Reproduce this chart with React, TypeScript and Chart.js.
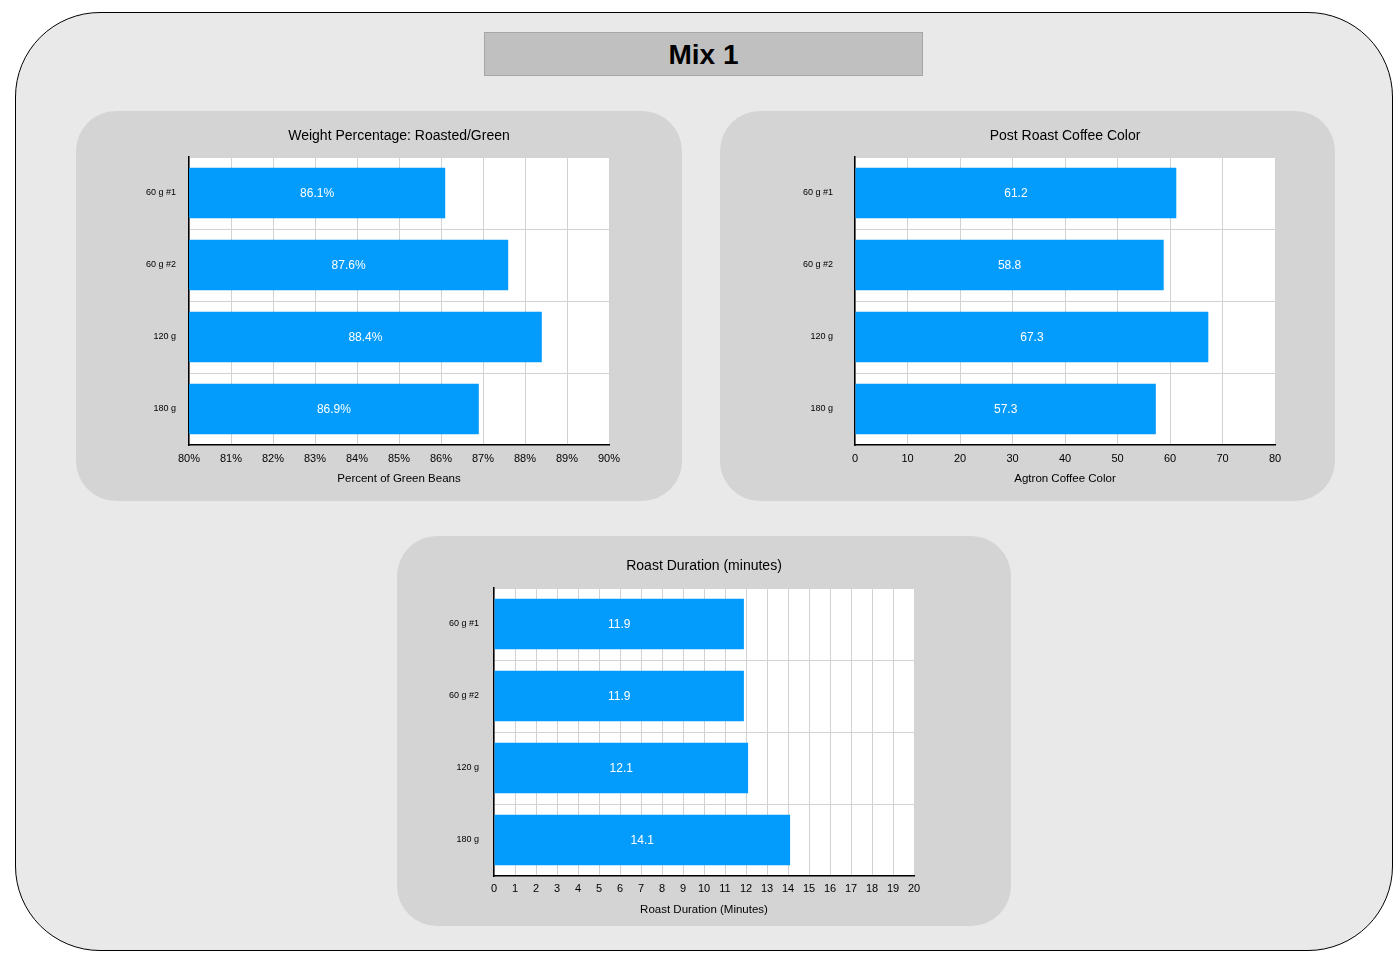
import React, { useEffect, useRef } from "react";
import { Chart, registerables } from "chart.js";

Chart.register(...registerables);

// ---- data ----
const categories = ["60 g #1", "60 g #2", "120 g", "180 g"];
const weightPct = [86.1, 87.6, 88.4, 86.9];
const coffeeColor = [61.2, 58.8, 67.3, 57.3];
const roastMinutes = [11.9, 11.9, 12.1, 14.1];

const pageTitle = "Mix 1";
const weightTitle = "Weight Percentage: Roasted/Green";
const colorTitle = "Post Roast Coffee Color";
const durationTitle = "Roast Duration (minutes)";
const weightAxis = "Percent of Green Beans";
const colorAxis = "Agtron Coffee Color";
const durationAxis = "Roast Duration (Minutes)";

const FONT = "'Liberation Sans', Arial, Helvetica, sans-serif";
const BAR = "#049CFC";
const GRID = "#d2d2d2";

const whiteBg = {
  id: "whiteBg",
  beforeDraw(chart: any) {
    const { ctx, chartArea } = chart;
    ctx.save();
    ctx.fillStyle = "#ffffff";
    ctx.fillRect(chartArea.left, chartArea.top, chartArea.right - chartArea.left, chartArea.bottom - chartArea.top);
    ctx.restore();
  },
};

function makeValueLabels(fmt: (v: number) => string) {
  return {
    id: "valueLabels",
    afterDatasetsDraw(chart: any) {
      const { ctx, chartArea } = chart;
      const ds = chart.data.datasets[0];
      const meta = chart.getDatasetMeta(0);
      ctx.save();
      ctx.fillStyle = "#ffffff";
      ctx.font = `12px ${FONT}`;
      ctx.textAlign = "center";
      ctx.textBaseline = "middle";
      meta.data.forEach((el: any, i: number) => {
        const base = Math.max(Math.min(el.base, el.x), chartArea.left);
        const end = Math.min(Math.max(el.base, el.x), chartArea.right);
        ctx.fillText(fmt(Number(ds.data[i])), (base + end) / 2, el.y + 1);
      });
      ctx.restore();
    },
  };
}

type PanelProps = {
  x: number;
  y: number;
  w: number;
  h: number;
  left: number;
  right: number;
  titleTop: number;
  titleBottom: number;
  xHeight: number;
  tickPad: number;
  xTitleBottom: number;
  yPad: number;
  title: string;
  xTitle: string;
  values: number[];
  min: number;
  max: number;
  step: number;
  tickFmt: (v: number) => string;
  valFmt: (v: number) => string;
};

function Panel(p: PanelProps) {
  const ref = useRef<HTMLCanvasElement>(null);
  useEffect(() => {
    const chart = new Chart(ref.current as HTMLCanvasElement, {
      type: "bar",
      data: {
        labels: categories,
        datasets: [
          {
            data: p.values,
            backgroundColor: BAR,
            borderWidth: 0,
            barPercentage: 0.7,
            categoryPercentage: 1,
          },
        ],
      },
      options: {
        indexAxis: "y",
        animation: false,
        responsive: false,
        maintainAspectRatio: false,
        devicePixelRatio: 1,
        events: [],
        layout: { padding: { left: 0, right: p.right, top: 0, bottom: 0 } },
        plugins: {
          legend: { display: false },
          tooltip: { enabled: false },
          title: {
            display: true,
            text: p.title,
            color: "#000",
            fullSize: false,
            font: { family: FONT, size: 14, weight: "normal" },
            padding: { top: p.titleTop, bottom: p.titleBottom },
          },
        },
        scales: {
          x: {
            type: "linear",
            min: p.min,
            max: p.max,
            ticks: {
              stepSize: p.step,
              color: "#000",
              font: { family: FONT, size: 11 },
              padding: p.tickPad,
              maxRotation: 0,
              autoSkip: false,
              callback: (v: any) => p.tickFmt(Number(v)),
            },
            grid: { color: GRID, drawTicks: false },
            border: { color: "#000", width: 1.5 },
            title: {
              display: true,
              text: p.xTitle,
              color: "#000",
              font: { family: FONT, size: 11.5 },
              padding: { top: 0, bottom: p.xTitleBottom },
            },
            afterFit: (s: any) => {
              s.height = p.xHeight;
            },
          },
          y: {
            ticks: {
              color: "#000",
              font: { family: FONT, size: 9 },
              padding: p.yPad,
            },
            grid: { color: GRID, drawTicks: false, offset: true },
            border: { color: "#000", width: 1.5 },
            afterFit: (s: any) => {
              s.width = p.left;
            },
          },
        },
      } as any,
      plugins: [whiteBg, makeValueLabels(p.valFmt)],
    });
    return () => chart.destroy();
  }, []);
  return (
    <div
      style={{
        position: "absolute",
        left: p.x,
        top: p.y,
        width: p.w,
        height: p.h,
        background: "#d4d4d4",
        borderRadius: 40,
      }}
    >
      <canvas ref={ref} width={p.w} height={p.h} style={{ display: "block", width: p.w, height: p.h }} />
    </div>
  );
}

export default function App() {
  return (
    <div style={{ position: "absolute", left: 0, top: 0, width: 1400, height: 957, background: "#fff", fontFamily: FONT }}>
      <div
        style={{
          position: "absolute",
          left: 15,
          top: 12,
          width: 1378,
          height: 939,
          boxSizing: "border-box",
          border: "1.5px solid #000",
          borderRadius: 85,
          background: "#e9e9e9",
        }}
      />
      <div
        style={{
          position: "absolute",
          left: 484,
          top: 32,
          width: 439,
          height: 44,
          boxSizing: "border-box",
          background: "#c0c0c0",
          border: "1px solid #a6a6a6",
          display: "flex",
          alignItems: "center",
          justifyContent: "center",
          fontWeight: "bold",
          fontSize: 28,
          paddingTop: 2,
          color: "#000",
        }}
      >
        {pageTitle}
      </div>
      <Panel
        x={76}
        y={111}
        w={606}
        h={390}
        left={113}
        right={73}
        titleTop={16.6}
        titleBottom={12.6}
        xHeight={56}
        tickPad={7}
        xTitleBottom={15.1}
        yPad={13}
        title={weightTitle}
        xTitle={weightAxis}
        values={weightPct}
        min={80}
        max={90}
        step={1}
        tickFmt={(v) => `${v}%`}
        valFmt={(v) => `${v.toFixed(1)}%`}
      />
      <Panel
        x={720}
        y={111}
        w={615}
        h={390}
        left={135}
        right={60}
        titleTop={16.6}
        titleBottom={12.6}
        xHeight={56}
        tickPad={7}
        xTitleBottom={15.1}
        yPad={22}
        title={colorTitle}
        xTitle={colorAxis}
        values={coffeeColor}
        min={0}
        max={80}
        step={10}
        tickFmt={(v) => `${v}`}
        valFmt={(v) => v.toFixed(1)}
      />
      <Panel
        x={397}
        y={536}
        w={614}
        h={390}
        left={97}
        right={97}
        titleTop={21.6}
        titleBottom={13.6}
        xHeight={50}
        tickPad={6}
        xTitleBottom={9.1}
        yPad={15}
        title={durationTitle}
        xTitle={durationAxis}
        values={roastMinutes}
        min={0}
        max={20}
        step={1}
        tickFmt={(v) => `${v}`}
        valFmt={(v) => v.toFixed(1)}
      />
    </div>
  );
}
